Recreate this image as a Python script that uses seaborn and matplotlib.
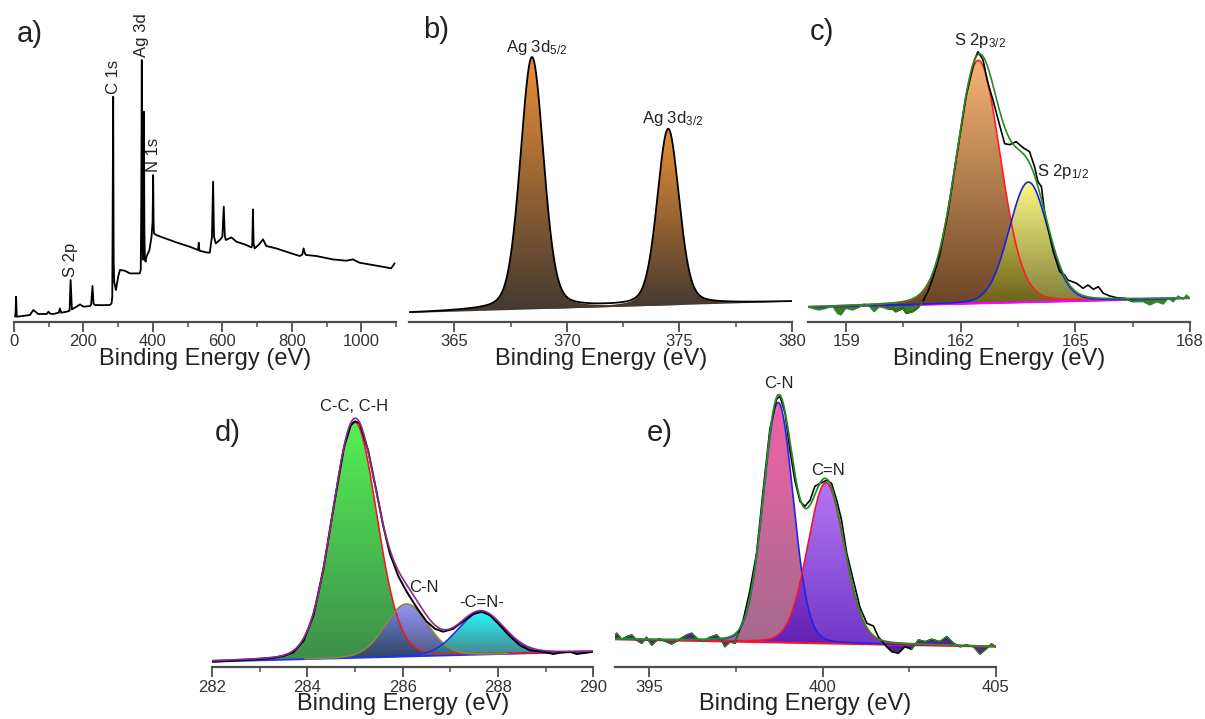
import numpy as np
import seaborn as sns
import matplotlib.pyplot as plt
from matplotlib.colors import LinearSegmentedColormap
from matplotlib.patches import Polygon

# ---------------- data (intensity in a.u.) ----------------
# a) survey spectrum
survey_be = [3, 4.5, 6, 8, 20, 46, 55.6, 70, 94, 99,
             104, 113, 129, 132, 136, 151.5, 160, 163, 166.7, 180,
             190, 200, 218.6, 222, 226, 229, 233, 255, 276, 281,
             283, 285.6, 287, 288.5, 293.4, 300, 305, 319, 333.6, 362,
             365, 366.5, 368, 369.5, 371, 372.5, 374, 375.5, 377, 379,
             381.5, 390, 396, 399, 400.7, 402, 403, 410, 430, 448.7,
             470, 506, 530, 532, 534, 554, 563.7, 570, 573.3, 576,
             581, 592.5, 600, 604, 607, 610, 626, 640.5, 669, 683.6,
             686, 688, 690, 693, 705, 717, 726.6, 755, 784, 813,
             822.5, 830, 834, 838, 841, 870.5, 918, 957, 976, 995,
             1033, 1072, 1086, 1096]
survey_int = [5, 8, 25, 5, 5.5, 6.7, 11.7, 7.7, 7.7, 10,
              8, 7.7, 9, 13.3, 9, 10, 11, 41.7, 12.3, 15,
              17.3, 15, 15.7, 17, 35.7, 18, 16.7, 16.5, 16.7, 18.3,
              25, 225, 60, 40, 31.7, 45, 51.7, 51, 48.3, 48.3,
              52, 120, 261.7, 110, 62, 70, 210, 90, 62, 60,
              65, 71.7, 85, 100, 146.7, 100, 88.3, 86.7, 84, 81.7,
              79, 75, 71.7, 79, 71, 69.3, 69, 85, 140, 85,
              78.3, 81.7, 85, 115, 86, 81.7, 84.3, 80, 76.7, 74.3,
              76, 112.3, 78, 73.3, 77, 82.3, 75.7, 73.3, 70, 66.7,
              65.7, 67, 73.3, 68, 66.7, 65.7, 62.3, 61, 62.3, 59,
              56.7, 54.3, 53.3, 58.3]
survey_names = ["S 2p", "C 1s", "Ag 3d", "N 1s"]
survey_name_be = [163, 285.6, 368, 400.7]
survey_name_int = [41.7, 225, 261.7, 146.7]

# b) Ag 3d fit
ag_bg_be = [363, 380]
ag_bg_int = [8.7, 20.0]
ag_names = ["Ag 3d$_{\\mathregular{5/2}}$", "Ag 3d$_{\\mathregular{3/2}}$"]
ag_center = [368.45, 374.5]
ag_height = [252, 176]
ag_fwhm = [1.22, 1.15]
ag_label_be = [368.65, 374.7]
ag_label_int = [270, 198.4]

# c) S 2p fit
s_be = [158.0, 158.12, 158.29, 158.47, 158.64, 158.77, 158.86, 158.99, 159.17, 159.34,
        159.47, 159.6, 159.73, 159.87, 160.04, 160.22, 160.3, 160.48, 160.57, 160.74,
        160.87, 161.0, 161.14, 161.27, 161.44, 161.66, 161.88, 162.14, 162.36, 162.45,
        162.58, 162.7, 162.84, 163.02, 163.15, 163.28, 163.45, 163.63, 163.8, 163.93,
        164.02, 164.11, 164.2, 164.42, 164.59, 164.72, 164.8, 165.03, 165.2, 165.33,
        165.47, 165.6, 165.73, 165.9, 166.08, 166.3, 166.52, 166.78, 166.95, 167.13,
        167.3, 167.43, 167.56, 167.69, 167.82, 167.91, 168.0]
s_int = [15, 13.4, 11.7, 13.4, 15.7, 8.4, 6.7, 13.4, 11.7, 14.4,
         17.7, 15.7, 10, 15, 13.4, 12.4, 10, 13.4, 8.4, 10,
         13.4, 20, 30, 44, 66, 108, 163, 226, 262, 270,
         262, 240, 222, 196, 178, 177, 180, 174, 170, 155,
         140, 135, 108, 70, 50, 46.7, 41.7, 38.4, 33.4, 36.7,
         32.4, 35, 28.4, 25.7, 24, 23.4, 20, 20, 16.7, 20,
         17.7, 23.4, 20, 25.7, 22.4, 26.7, 23.4]
s_bg_be = [158, 168]
s_bg_int = [14.4, 23.4]
s_names = ["S 2p$_{\\mathregular{3/2}}$", "S 2p$_{\\mathregular{1/2}}$"]
s_center = [162.46, 163.77]
s_height = [243, 120]
s_fwhm = [1.35, 1.2]
s_label_be = [162.5, 164.0]
s_label_int = [276.7, 145.7]

# d) C 1s fit
c_be = [282.0, 282.4, 282.94, 283.3, 283.5, 283.71, 283.92, 284.13, 284.34, 284.55,
        284.77, 284.91, 285.0, 285.1, 285.28, 285.45, 285.59, 285.73, 285.91, 286.08,
        286.29, 286.5, 286.68, 286.85, 287.06, 287.27, 287.48, 287.66, 287.83, 288.04,
        288.25, 288.46, 288.67, 288.95, 289.16, 289.3, 289.51, 289.65, 289.86, 290.0]
c_int = [5.6, 6.5, 8.0, 9.5, 11.3, 15.0, 26.5, 52, 99, 160,
         220, 242, 246, 244, 216, 176, 142, 114, 91, 76,
         60, 46, 38.5, 35.6, 38.5, 46, 53.5, 55.6, 52.3, 42,
         31, 22, 17, 15.6, 13.3, 14.6, 15.6, 13.3, 14.6, 15.6]
c_bg_be = [282, 290]
c_bg_int = [5.7, 15.7]
c_names = ["C-C, C-H", "C-N", "-C=N-"]
c_center = [284.99, 286.08, 287.64]
c_height = [236, 52.5, 42.3]
c_fwhm = [1.1, 1.05, 1.15]
c_label_be = [284.98, 286.45, 287.66]
c_label_int = [256, 75.6, 60.6]

# e) N 1s fit
n_be = [393.98, 394.06, 394.2, 394.35, 394.49, 394.63, 394.78, 394.92, 395.07, 395.26,
        395.45, 395.64, 395.84, 396.08, 396.22, 396.37, 396.56, 396.75, 396.94, 397.09,
        397.18, 397.33, 397.47, 397.57, 397.71, 397.9, 398.1, 398.29, 398.48, 398.67,
        398.77, 398.92, 399.06, 399.2, 399.35, 399.49, 399.64, 399.78, 399.93, 400.12,
        400.26, 400.41, 400.55, 400.7, 400.89, 401.08, 401.28, 401.47, 401.61, 401.85,
        402.0, 402.19, 402.38, 402.57, 402.77, 402.96, 403.15, 403.39, 403.59, 403.78,
        403.97, 404.16, 404.36, 404.55, 404.74, 404.88, 405.0]
n_int = [30.6, 34, 28, 30.6, 32.3, 27.3, 24, 30, 22.3, 28.6,
         26.3, 23.3, 27.3, 32.3, 34, 29, 26.3, 30, 32.3, 27.3,
         20.6, 25.6, 24, 34, 47.3, 76, 115, 178, 238, 268,
         271, 254, 217, 187, 166, 161, 167, 181, 184, 187,
         184, 167, 147, 114, 87, 60, 44, 41.3, 30.6, 20.6,
         15.6, 14, 20.6, 18, 27.3, 25.6, 28, 25.6, 30.6, 24,
         20.6, 22.3, 20.6, 13.3, 19, 23.3, 20.6]
n_bg_be = [394, 405]
n_bg_int = [28.0, 20.6]
n_names = ["C-N", "C=N"]
n_center = [398.72, 400.1]
n_height = [240, 160.7]
n_fwhm = [1.02, 1.25]
n_label_be = [398.75, 400.15]
n_label_int = [279, 192.3]

# ---------------- style ----------------
sns.set_theme(style="white")
plt.rcParams["font.family"] = ["Liberation Sans", "DejaVu Sans"]
plt.rcParams["mathtext.fontset"] = "custom"
plt.rcParams["mathtext.rm"] = "Liberation Sans"
plt.rcParams["mathtext.it"] = "Liberation Sans:italic"

AXC = "#4d4d4d"
TXT = "#222222"
LBL = 12


def voigt(x, center, height, fwhm, eta=0.1):
    g = np.exp(-4 * np.log(2) * (x - center) ** 2 / fwhm ** 2)
    l = 1 / (1 + 4 * (x - center) ** 2 / fwhm ** 2)
    return height * ((1 - eta) * g + eta * l)


def gradient_fill(ax, x, lower, upper, top, bottom, alpha=1.0, z=1):
    verts = np.vstack([np.column_stack([x, upper]), np.column_stack([x[::-1], lower[::-1]])])
    poly = Polygon(verts, closed=True, facecolor="none", edgecolor="none", transform=ax.transData)
    ax.add_patch(poly)
    cmap = LinearSegmentedColormap.from_list("grad", [bottom, top])
    ramp = np.linspace(0, 1, 256)[:, None]
    im = ax.imshow(ramp, cmap=cmap, origin="lower", aspect="auto", alpha=alpha, zorder=z,
                   extent=(x.min(), x.max(), lower.min(), upper.max()), interpolation="bilinear")
    im.set_clip_path(poly)


def style_axis(ax, xlim, ylim, major, minor):
    ax.set_xlim(xlim)
    ax.set_ylim(ylim)
    ax.set_xticks(major)
    ax.set_xticks(minor, minor=True)
    ax.set_yticks([])
    ax.set_ylabel("")
    for side in ["left", "right", "top"]:
        ax.spines[side].set_visible(False)
    ax.spines["bottom"].set_color(AXC)
    ax.spines["bottom"].set_linewidth(1.6)
    ax.tick_params(axis="x", which="major", direction="out", length=7, width=1.3,
                   color=AXC, labelsize=12, labelcolor="#333333", pad=2, bottom=True)
    ax.tick_params(axis="x", which="minor", direction="out", length=3.5, width=1.1,
                   color=AXC, bottom=True)
    ax.set_xlabel("Binding Energy (eV)", fontsize=17, color=TXT, labelpad=-1)
    ax.patch.set_alpha(0)


def line(ax, x, y, color, lw=1.2, z=5):
    sns.lineplot(x=x, y=y, ax=ax, color=color, lw=lw, zorder=z,
                 estimator=None, sort=False, legend=False)


def fit_components(ax, grid, bg, centers, heights, fwhms, tops, bottoms, edges, eta=0.1):
    comps = []
    for i in range(len(centers)):
        comp = voigt(grid, centers[i], heights[i], fwhms[i], eta)
        m = comp > 0.3
        gradient_fill(ax, grid[m], bg[m], bg[m] + comp[m], tops[i], bottoms[i],
                      alpha=1.0 if i == 0 else 0.85, z=1 + i)
        line(ax, grid[m], bg[m] + comp[m], edges[i], lw=1.2, z=4)
        comps.append(comp)
    return bg + np.sum(comps, axis=0)


fig = plt.figure(figsize=(12.05, 7.19), dpi=100)
W, H = 1205, 719


def add_axes(l, r, b, t):
    return fig.add_axes([l / W, 1 - b / H, (r - l) / W, (b - t) / H])


ax_a = add_axes(14, 396, 321.7, 20)
ax_b = add_axes(409.3, 792, 321.7, 20)
ax_c = add_axes(808, 1190, 321.7, 20)
ax_d = add_axes(212, 593.3, 667.3, 380)
ax_e = add_axes(614.7, 995.7, 667.3, 380)

# ---- a) survey ----
line(ax_a, survey_be, survey_int, "black", lw=1.3)
for name, xb, yi in zip(survey_names, survey_name_be, survey_name_int):
    ax_a.annotate(name, (xb, yi), xytext=(0, 2), textcoords="offset points", rotation=90,
                  ha="center", va="bottom", fontsize=LBL, color=TXT)
style_axis(ax_a, (0, 1100), (0, 301.7), [0, 200, 400, 600, 800, 1000], list(range(100, 1101, 200)))

# ---- b) Ag 3d ----
gb = np.linspace(363, 380, 800)
bgb = np.interp(gb, ag_bg_be, ag_bg_int)
env_b = bgb.copy()
for i in range(2):
    comp = voigt(gb, ag_center[i], ag_height[i], ag_fwhm[i], eta=0.25)
    m = comp > 0.5
    gradient_fill(ax_b, gb[m], bgb[m], bgb[m] + comp[m], "#EA8F35", "#433830", z=1)
    env_b += comp
line(ax_b, gb, env_b, "black", lw=1.3)
for name, xb, yi in zip(ag_names, ag_label_be, ag_label_int):
    ax_b.text(xb, yi, name, ha="center", va="baseline", fontsize=LBL, color=TXT)
style_axis(ax_b, (363, 380), (0, 301.7), [365, 370, 375, 380], [367.5, 372.5, 377.5])

# ---- c) S 2p ----
gc = np.linspace(158, 168, 800)
bgc = np.interp(gc, s_bg_be, s_bg_int)
sx, sy = np.array(s_be), np.array(s_int)
sbg = np.interp(sx, s_bg_be, s_bg_int)
edge_c = (sx < 160.95) | (sx > 166.4)
ax_c.fill_between(sx, sbg, sy, where=edge_c, interpolate=True, color="#3E7B2A", lw=0, zorder=1)
env_c = fit_components(ax_c, gc, bgc, s_center, s_height, s_fwhm,
                       ["#F6B474", "#FAFA6A"], ["#6A4526", "#6C6618"], ["#FF1E1E", "#1E1EE6"])
line(ax_c, gc, bgc, "#2222DD", lw=1.2, z=3)
mid_c = (gc > 160.8) & (gc < 166.3)
line(ax_c, gc[mid_c], bgc[mid_c], "#FF00FF", lw=1.5, z=3)
mid_raw = (sx >= 160.0) & (sx <= 166.6)
line(ax_c, sx[mid_raw], sy[mid_raw], "black", lw=1.2, z=5)
line(ax_c, gc, env_c, "#2A8A2A", lw=1.2, z=6)
line(ax_c, sx[sx <= 161.0], sy[sx <= 161.0], "#2A8A2A", lw=1.0, z=6)
line(ax_c, sx[sx >= 166.3], sy[sx >= 166.3], "#2A8A2A", lw=1.0, z=6)
ax_c.text(s_label_be[0], s_label_int[0], s_names[0], ha="center", va="baseline", fontsize=LBL, color=TXT)
ax_c.text(s_label_be[1], s_label_int[1], s_names[1], ha="left", va="baseline", fontsize=LBL, color=TXT)
style_axis(ax_c, (158, 168), (0, 301.7), [159, 162, 165, 168], [160.5, 163.5, 166.5])

# ---- d) C 1s ----
gd = np.linspace(282, 290, 800)
bgd = np.interp(gd, c_bg_be, c_bg_int)
env_d = fit_components(ax_d, gd, bgd, c_center, c_height, c_fwhm,
                       ["#55F055", "#8282F7", "#00F4F4"], ["#3C8E4A", "#2D3769", "#286C78"],
                       ["#E81E1E", "#8A8A3A", "#1E32E6"])
line(ax_d, gd, bgd, "#2233EE", lw=1.3, z=3)
line(ax_d, c_be, c_int, "black", lw=1.4, z=5)
line(ax_d, gd, env_d, "#8C2A8C", lw=1.2, z=6)
for name, xb, yi in zip(c_names, c_label_be, c_label_int):
    ax_d.text(xb, yi, name, ha="center", va="baseline", fontsize=LBL, color=TXT)
style_axis(ax_d, (282, 290), (0, 287.3), [282, 284, 286, 288, 290], [283, 285, 287, 289])

# ---- e) N 1s ----
ge = np.linspace(394, 405, 800)
bge = np.interp(ge, n_bg_be, n_bg_int)
nx, ny = np.array(n_be), np.array(n_int)
nbg = np.interp(nx, n_bg_be, n_bg_int)
edge_e = (nx < 397.65) | (nx > 401.7)
ax_e.fill_between(nx, nbg, ny, where=edge_e, interpolate=True, color="#5A1E96", lw=0, zorder=1)
env_e = fit_components(ax_e, ge, bge, n_center, n_height, n_fwhm,
                       ["#F062AA", "#A85EF5"], ["#A46A8C", "#5612BC"], ["#2424E0", "#F0143C"])
line(ax_e, ge, bge, "#F0143C", lw=1.5, z=3)
line(ax_e, nx, ny, "black", lw=1.2, z=5)
line(ax_e, ge, env_e, "#2A8A2A", lw=1.3, z=6)
line(ax_e, nx[nx <= 397.7], ny[nx <= 397.7], "#2A8A2A", lw=1.0, z=6)
line(ax_e, nx[nx >= 402.5], ny[nx >= 402.5], "#2A8A2A", lw=1.0, z=6)
for name, xb, yi in zip(n_names, n_label_be, n_label_int):
    ax_e.text(xb, yi, name, ha="center", va="baseline", fontsize=LBL, color=TXT)
style_axis(ax_e, (394, 405), (0, 287.3), [395, 400, 405], [397.5, 402.5])

# panel letters
for letter, px, py in [("a)", 17, 42), ("b)", 423, 38), ("c)", 810, 40), ("d)", 215, 441), ("e)", 647, 441)]:
    fig.text(px / W, 1 - py / H, letter, fontsize=21, color=TXT, ha="left", va="baseline")

fig.savefig("out.png", dpi=100)
